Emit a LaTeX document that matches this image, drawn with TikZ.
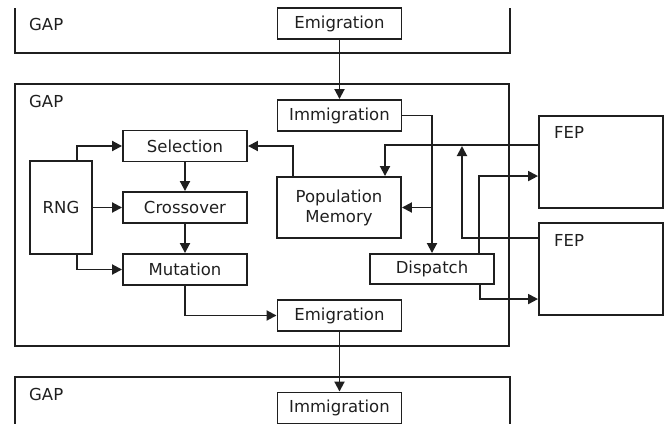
\documentclass[tikz,border=0pt]{standalone}
\usepackage{fontspec}
\setmainfont{DejaVu Sans}
\usetikzlibrary{calc,arrows.meta}
\colorlet{ink}{black!88}
\tikzset{
  blk/.style={draw=ink, line width=1.9pt, rectangle, inner sep=0pt, align=center, text=ink,
    font=\fontsize{16.5}{20}\selectfont, minimum width=124pt, minimum height=31pt},
  lbl/.style={inner sep=0pt, anchor=west, text=ink, font=\fontsize{16.5}{20}\selectfont},
  wire/.style={draw=ink, line width=1.9pt},
  arr/.style={wire, -{Triangle[length=10pt,width=10pt]}},
  frame/.style={draw=ink, line width=1.8pt}
}
\begin{document}
\begin{tikzpicture}[x=1pt,y=-1pt]
\useasboundingbox (0,0) rectangle (666,423);
% GAP frames
\draw[frame] (15,8) -- (15,53) -- (510,53) -- (510,8);
\node[frame,minimum width=494pt,minimum height=262pt,inner sep=0pt] (gap) at (262,215) {};
\draw[frame] (15,424) -- (15,377) -- (510,377) -- (510,424);
\node[lbl] (gapa) at (29,24) {GAP};
\node[lbl] (gapb) at (29,101) {GAP};
\node[lbl] (gapc) at (29,394) {GAP};
% nodes
\node[blk] (temig) at (339.5,23.5) {Emigration};
\node[blk] (imm) at (339.5,115.5) {Immigration};
\node[blk] (sel) at (185,146) {Selection};
\node[blk] (cross) at (185,207.5) {Crossover};
\node[blk] (mut) at (185,269.5) {Mutation};
\node[blk,minimum width=62pt,minimum height=93pt] (rng) at (61,207.5) {RNG};
\node[blk,minimum height=61pt] (pm) at (339,207.5) {Population\\Memory};
\node[blk,minimum height=30pt] (disp) at (432,269) {Dispatch};
\node[blk] (emig) at (339.5,315.5) {Emigration};
\node[blk] (bimm) at (339.5,408) {Immigration};
\node[blk,minimum height=92pt] (fep1) at (601,162) {};
\node[blk,minimum height=92pt] (fep2) at (601,269) {};
\node[lbl] (fepa) at (554,132.5) {FEP};
\node[lbl] (fepb) at (554,240) {FEP};
% connectors
\coordinate (br) at (432,207.5);
\coordinate (j) at (462,146);
\draw[arr] (temig.south) -- (imm.north);
\draw[arr] ($(rng.north)+(16,0)$) |- (sel.west);
\draw[arr] (rng.east) -- (cross.west);
\draw[arr] ($(rng.south)+(16,0)$) |- (mut.west);
\draw[arr] (sel.south) -- (cross.north);
\draw[arr] (cross.south) -- (mut.north);
\draw[arr] (mut.south) |- (emig.west);
\draw[arr] ($(pm.north)+(-46,0)$) |- (sel.east);
\draw[arr] (imm.east) -| (disp.north);
\draw[arr] (br) -- (pm.east);
\draw[arr] ($(fep1.north west)+(0,30)$) -| ($(pm.north)+(46,0)$);
\draw[arr] ($(fep2.north west)+(0,16)$) -| (j);
\draw[arr] ($(disp.north east)+(-16,0)$) |- ($(fep1.north west)+(0,61)$);
\draw[arr] ($(disp.south east)+(-15,0)$) |- ($(fep2.north west)+(0,77)$);
\draw[arr] (emig.south) -- (bimm.north);
\end{tikzpicture}
\end{document}
